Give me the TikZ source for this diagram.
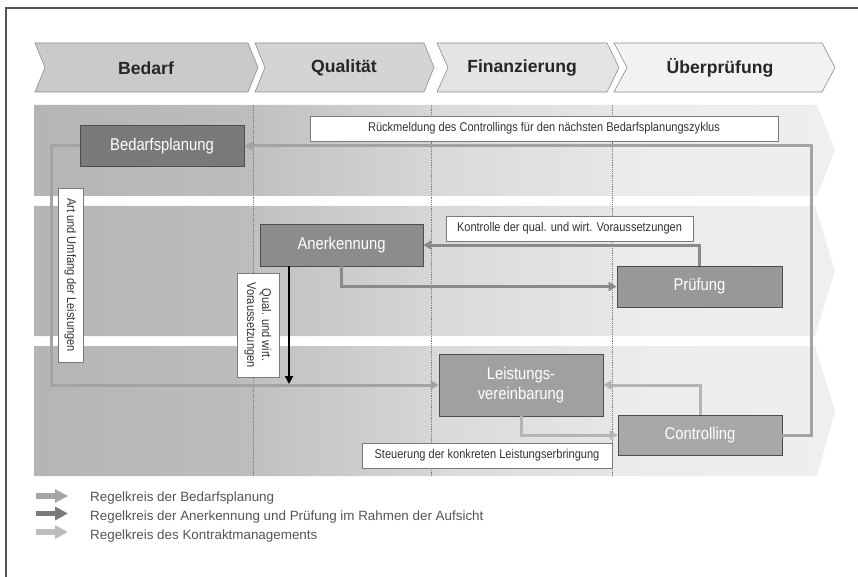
\documentclass[tikz,border=0pt]{standalone}
\usepackage{fontspec}
\setmainfont{Liberation Sans}
\newfontfamily\narrowfont[FakeStretch=0.87]{Liberation Sans}
\usetikzlibrary{arrows.meta}
\definecolor{frameC}{HTML}{555555}
\definecolor{chevB}{HTML}{8C8C8C}
\definecolor{ch1}{HTML}{CACACA}
\definecolor{ch2}{HTML}{D4D4D4}
\definecolor{ch3}{HTML}{E4E4E4}
\definecolor{ch4}{HTML}{F2F2F2}
\definecolor{b1a}{HTML}{B5B5B5}
\definecolor{b1b}{HTML}{BDBDBD}
\definecolor{b2a}{HTML}{C0C0C0}
\definecolor{b2b}{HTML}{D6D6D6}
\definecolor{b3a}{HTML}{D9D9D9}
\definecolor{b3b}{HTML}{E6E6E6}
\definecolor{b4a}{HTML}{EBEBEB}
\definecolor{b4b}{HTML}{EFEFEF}
\definecolor{sepC}{HTML}{7A7A7A}
\definecolor{nBorder}{HTML}{4D4D4D}
\definecolor{nBp}{HTML}{7A7A7A}
\definecolor{nAn}{HTML}{8C8C8C}
\definecolor{nPr}{HTML}{989898}
\definecolor{nLv}{HTML}{A0A0A0}
\definecolor{nCt}{HTML}{A8A8A8}
\definecolor{lblBorder}{HTML}{7A7A7A}
\definecolor{lblText}{HTML}{333333}
\definecolor{cBedC}{HTML}{A3A3A3}
\definecolor{cAnC}{HTML}{8A8A8A}
\definecolor{cConC}{HTML}{B4B4B4}
\definecolor{leg1}{HTML}{A6A6A6}
\definecolor{leg2}{HTML}{7A7A7A}
\definecolor{leg3}{HTML}{BDBDBD}
\definecolor{legText}{HTML}{555555}
\begin{document}
\begin{tikzpicture}[x=1pt,y=-1pt,
  chevron/.style={draw=chevB, line width=0.6pt},
  chevtext/.style={font=\bfseries\fontsize{17.6}{20}\selectfont, text=black!85, inner sep=0},
  sepline/.style={draw=sepC, line width=0.5pt, dash pattern=on 1.2pt off 1pt},
  proc/.style={draw=nBorder, line width=0.8pt, text=white, inner sep=0, align=center,
    font=\narrowfont\fontsize{17}{19.5}\selectfont},
  lbl/.style={draw=lblBorder, line width=0.7pt, fill=white, text=lblText, inner sep=0,
    font=\narrowfont\fontsize{12.7}{15}\selectfont},
  conn/.style={line width=3pt, -{Triangle[length=8pt,width=9pt]}},
  cBed/.style={conn, draw=cBedC},
  cAn/.style={conn, draw=cAnC},
  cCon/.style={conn, draw=cConC},
  cBlack/.style={line width=2.4pt, draw=black, -{Triangle[length=8pt,width=8pt]}},
  legarrow/.style={line width=5.5pt, -{Triangle[length=13pt,width=13pt]}},
  legtext/.style={font=\fontsize{13.4}{16}\selectfont, text=legText, inner sep=0, anchor=base west}
]
\useasboundingbox (0,0) rectangle (858,577);
\fill[white] (0,0) rectangle (858,577);
% frame
\draw[frameC, line width=1.3pt] (6,577) -- (6,8) -- (858,8);

% chevrons
\draw[chevron, fill=ch1] (35,43) -- (248,43) -- (258,67.5) -- (248,92) -- (35,92) -- (45,67.5) -- cycle;
\draw[chevron, fill=ch2] (255,43) -- (424,43) -- (434,67.5) -- (424,92) -- (255,92) -- (265,67.5) -- cycle;
\draw[chevron, fill=ch3] (437,43) -- (607,43) -- (619,67.5) -- (607,92) -- (437,92) -- (448,67.5) -- cycle;
\draw[chevron, fill=ch4] (614,43) -- (822,43) -- (835,67.5) -- (822,92) -- (614,92) -- (627,67.5) -- cycle;
\node[chevtext] (h1) at (146,68) {Bedarf};
\node[chevtext] (h2) at (344,68) {Qualität};
\node[chevtext] (h3) at (522,68) {Finanzierung};
\node[chevtext] (h4) at (720,68) {Überprüfung};

% bands
\begin{scope}
\clip (34,105) -- (817,105) -- (835,150) -- (817,196) -- (34,196) -- cycle
      (34,206) -- (815,206) -- (835,271) -- (815,336) -- (34,336) -- cycle
      (34,346) -- (815,346) -- (835,411) -- (817,476) -- (34,476) -- cycle;
\shade[left color=b1a, right color=b1b] (34,100) rectangle (253.5,480);
\shade[left color=b2a, right color=b2b] (253.5,100) rectangle (431,480);
\shade[left color=b3a, right color=b3b] (431,100) rectangle (612,480);
\shade[left color=b4a, right color=b4b] (612,100) rectangle (840,480);
\end{scope}
\draw[sepline] (253.5,105) -- (253.5,476);
\draw[sepline] (431,105) -- (431,476);
\draw[sepline] (612,105) -- (612,476);

% process nodes
\node[proc, fill=nBp, minimum width=164, minimum height=41] (bp) at (162,146) {Bedarfsplanung};
\node[proc, fill=nAn, minimum width=163, minimum height=42] (an) at (341.5,245) {Anerkennung};
\node[proc, fill=nPr, minimum width=165, minimum height=41] (pr) at (699.5,286.5) {Prüfung};
\node[proc, fill=nLv, minimum width=164, minimum height=62] (lv) at (521,385) {Leistungs-\\vereinbarung};
\node[proc, fill=nCt, minimum width=164, minimum height=40] (ct) at (700,435) {Controlling};

% connectors: Bedarfsplanung cycle
\coordinate (rtop) at (811,146);
\coordinate (lcorner) at (51,385);
\draw[cBed] (ct.east) -| (rtop) -- (bp.east);
\draw[cBed] (bp.west) -| (lcorner) -- (lv.west);
% Anerkennung / Pruefung cycle
\draw[cAn] (an.south) |- (pr.west);
\draw[cAn] (pr.north) |- (an.east);
% black arrow
\coordinate (qend) at (289,384);
\draw[cBlack] (an.south -| qend) -- (qend);
% contract management
\draw[cCon] (lv.south) |- (ct.west);
\draw[cCon] (ct.north) |- (lv.east);

% label boxes
\node[lbl, minimum width=468, minimum height=25] (rm) at (544,128.5) {Rückmeldung des Controllings für den nächsten Bedarfsplanungszyklus};
\node[lbl, minimum width=247, minimum height=25] (ko) at (569.5,228.5) {Kontrolle der qual. und wirt. Voraussetzungen};
\node[lbl, minimum width=250, minimum height=25] (st) at (487,455.5) {Steuerung der konkreten Leistungserbringung};
\node[lbl, rotate=-90, minimum width=174, minimum height=25] (au) at (70.5,275) {Art und Umfang der Leistungen};
\node[lbl, rotate=-90, minimum width=104, minimum height=42, align=center] (qw) at (258,325) {Qual. und wirt.\\Voraussetzungen};

% legend
\coordinate (la1) at (36,496);   \coordinate (lb1) at (68,496);
\coordinate (la2) at (36,513.5); \coordinate (lb2) at (68,513.5);
\coordinate (la3) at (36,532);   \coordinate (lb3) at (68,532);
\draw[legarrow, draw=leg1] (la1) -- (lb1);
\draw[legarrow, draw=leg2] (la2) -- (lb2);
\draw[legarrow, draw=leg3] (la3) -- (lb3);
\node[legtext] (t1) at (90,501.5) {Regelkreis der Bedarfsplanung};
\node[legtext] (t2) at (90,520.5) {Regelkreis der Anerkennung und Prüfung im Rahmen der Aufsicht};
\node[legtext] (t3) at (90,539) {Regelkreis des Kontraktmanagements};
\end{tikzpicture}
\end{document}
